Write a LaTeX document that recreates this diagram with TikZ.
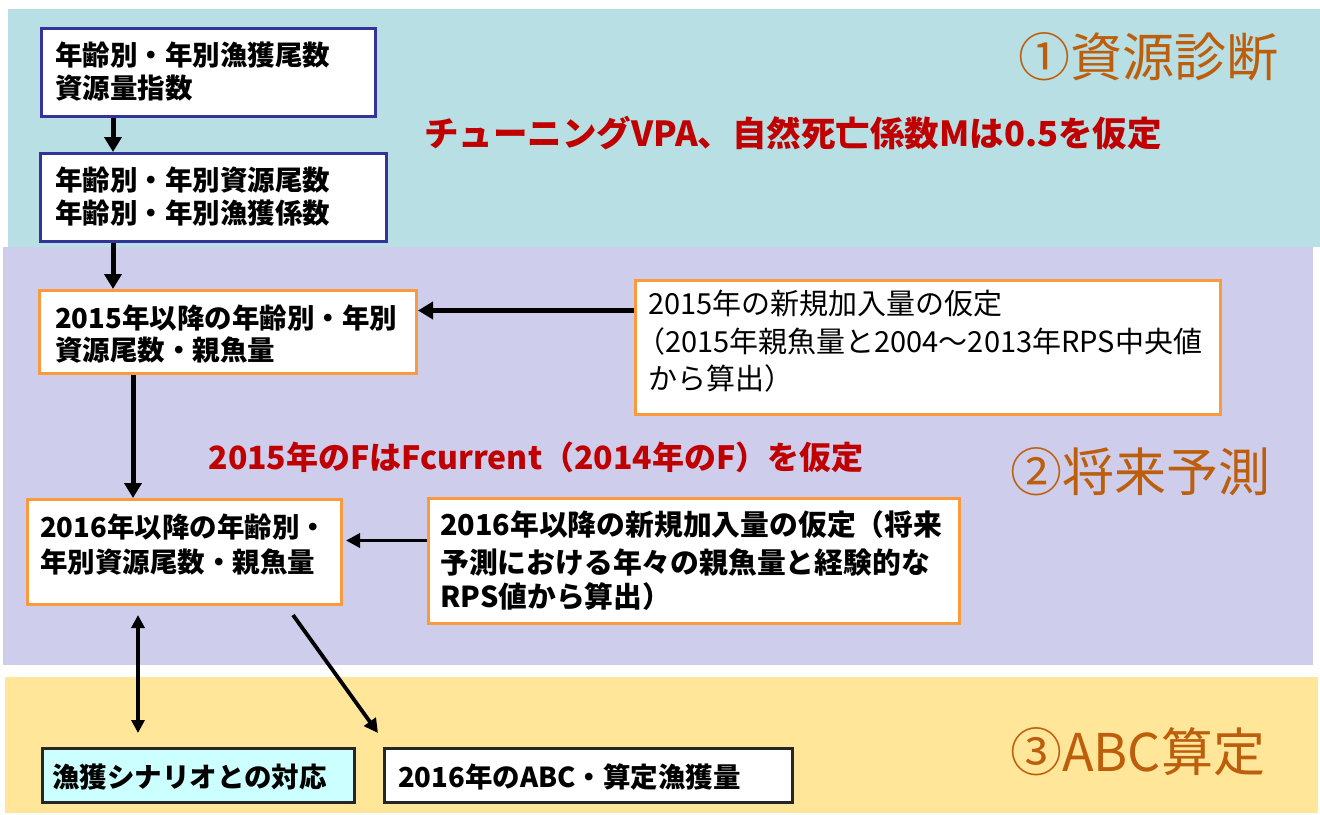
\documentclass[tikz,border=0pt]{standalone}
\usepackage{fontspec}
\setmainfont{Noto Sans CJK JP}
\usetikzlibrary{arrows.meta}
\definecolor{bandA}{RGB}{184,223,227}
\definecolor{bandB}{RGB}{206,206,236}
\definecolor{bandC}{RGB}{255,230,153}
\definecolor{labelc}{RGB}{188,94,12}
\definecolor{redtxt}{RGB}{192,0,0}
\definecolor{blueb}{RGB}{51,51,153}
\definecolor{orangeb}{RGB}{250,154,60}
\definecolor{cyanbox}{RGB}{204,255,255}
\begin{document}
\begin{tikzpicture}[x=1pt,y=-1pt,
  bluebox/.style={draw=blueb, line width=2.5pt, fill=white, anchor=north west, inner sep=0},
  orbox/.style={draw=orangeb, line width=3pt, fill=white, anchor=north west, inner sep=0},
  blkbox/.style={draw=black!85, line width=2.5pt, anchor=north west, inner sep=0},
  btxt/.style={anchor=west, inner sep=0, font=\fontsize{27.5}{27.5}\selectfont\bfseries},
  b6txt/.style={anchor=west, inner sep=0, font=\fontsize{28.8}{28.8}\selectfont\bfseries},
  rtxt/.style={anchor=west, inner sep=0, font=\fontsize{29}{29}\selectfont},
  redlbl/.style={inner sep=0, text=redtxt, font=\fontsize{34.5}{34.5}\selectfont\bfseries},
  redlblb/.style={inner sep=0, text=redtxt, font=\fontsize{32}{32}\selectfont\bfseries},
  seclbl/.style={anchor=west, inner sep=0, text=labelc, font=\fontsize{52}{52}\selectfont},
  thickarr/.style={line width=5pt, -{Triangle[width=17pt,length=15pt]}},
  thinarr/.style={line width=3.8pt, -{Triangle[width=14pt,length=14pt]}},
  dblarr/.style={line width=3.3pt, {Triangle[width=13pt,length=13pt]}-{Triangle[width=13pt,length=13pt]}}]
\useasboundingbox (0,0) rectangle (1320,814);
\fill[white] (0,0) rectangle (1320,814);
% bands
\fill[bandA] (8,9) rectangle (1320,247);
\fill[bandB] (3,247) rectangle (1313,665);
\fill[bandC] (5,677) rectangle (1318,813);
% section labels
\node[seclbl] (s1) at (1018,57) {①資源診断};
\node[seclbl] (s2) at (1010,472) {②将来予測};
\node[seclbl] (s3) at (1010,752) {③ABC算定};
% red notes
\node[redlbl] (n1) at (793,133) {チューニングVPA、自然死亡係数Mは0.5を仮定};
\node[redlblb] (n2) at (536,457) {2015年のFはFcurrent（2014年のF）を仮定};
% boxes
\node[bluebox, minimum width=334pt, minimum height=88pt] (b1) at (40,27) {};
\node[bluebox, minimum width=346pt, minimum height=88pt] (b2) at (39,152) {};
\node[orbox, minimum width=377pt, minimum height=83pt] (b3) at (38,289) {};
\node[orbox, minimum width=585pt, minimum height=134pt] (b4) at (634,279) {};
\node[orbox, minimum width=314pt, minimum height=105pt] (b5) at (26,498) {};
\node[orbox, minimum width=531pt, minimum height=125pt] (b6) at (427,497) {};
\node[blkbox, fill=cyanbox, minimum width=312pt, minimum height=54pt] (b7) at (41,747) {};
\node[blkbox, fill=white, minimum width=408pt, minimum height=54pt] (b8) at (383,747) {};
% box texts
\node[btxt] (t1a) at (55,55) {年齢別・年別漁獲尾数};
\node[btxt] (t1b) at (55,88) {資源量指数};
\node[btxt] (t2a) at (55,180) {年齢別・年別資源尾数};
\node[btxt] (t2b) at (55,213) {年齢別・年別漁獲係数};
\node[btxt] (t3a) at (55,318) {2015年以降の年齢別・年別};
\node[btxt] (t3b) at (55,350) {資源尾数・親魚量};
\node[rtxt] (t4a) at (648,303) {2015年の新規加入量の仮定};
\node[rtxt] (t4b) at (636,341) {（2015年親魚量と2004～2013年RPS中央値};
\node[rtxt] (t4c) at (648,378) {から算出）};
\node[btxt] (t5a) at (40,527) {2016年以降の年齢別・};
\node[btxt] (t5b) at (40,562) {年別資源尾数・親魚量};
\node[b6txt] (t6a) at (440,525) {2016年以降の新規加入量の仮定（将来};
\node[b6txt] (t6b) at (440,562) {予測における年々の親魚量と経験的な};
\node[b6txt] (t6c) at (440,597) {RPS値から算出）};
\node[btxt] (t7) at (52,777) {漁獲シナリオとの対応};
\node[btxt] (t8) at (398,777) {2016年のABC・算定漁獲量};
% connectors
\draw[thickarr] ([xshift=73pt]b1.south west) -- ([xshift=74pt]b2.north west);
\draw[thickarr] ([xshift=74pt]b2.south west) -- ([xshift=75pt]b3.north west);
\draw[thickarr] ([yshift=37pt]b4.west) -- ([yshift=21.5pt]b3.east);
\draw[thickarr] ([xshift=95pt]b3.south west) -- ([xshift=107pt]b5.north west);
\draw[thinarr] ([yshift=20.5pt]b6.west) -- ([yshift=11.5pt,xshift=3pt]b5.east);
\draw[dblarr] ([xshift=112pt,yshift=-9pt]b5.south west) -- ([xshift=97pt,yshift=14pt]b7.north west);
\draw[thinarr] ([xshift=267pt,yshift=-9pt]b5.south west) -- ([xshift=-5pt,yshift=14pt]b8.north west);
\end{tikzpicture}
\end{document}
